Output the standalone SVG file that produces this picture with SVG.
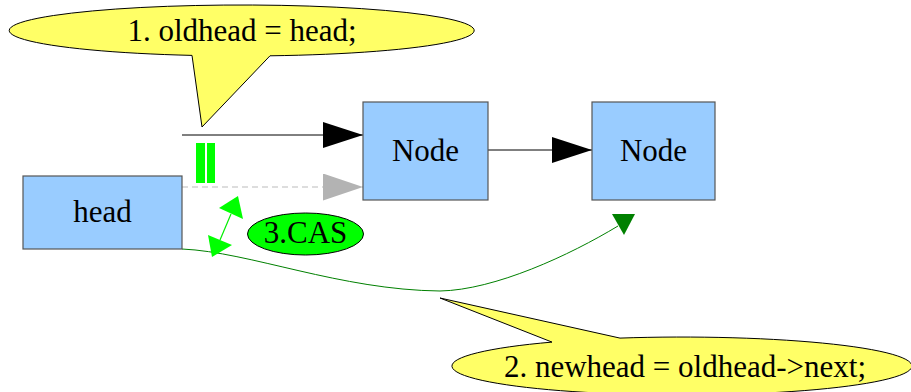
<svg xmlns="http://www.w3.org/2000/svg" width="911" height="392" viewBox="0 0 911 392">
  <style>
    .box { fill: #99ccff; stroke: #555555; stroke-width: 1.2; }
    .lbl { font-family: "Liberation Serif", "Times New Roman", serif; font-size: 31px; fill: #000; text-anchor: middle; }
    .callout { fill: #ffff66; stroke: #000; stroke-width: 1; }
    .link { fill: none; stroke: #000; stroke-width: 1; }
    .old { fill: none; stroke: #bbbbbb; stroke-width: 1; stroke-dasharray: 6 4; }
    .next { fill: none; stroke: #008000; stroke-width: 1; }
    .cas { fill: none; stroke: #00ee00; stroke-width: 1.2; }
  </style>
  <defs>
    <marker id="arrowBlack" markerUnits="userSpaceOnUse" markerWidth="40" markerHeight="26" refX="40" refY="13" orient="auto">
      <path d="M0,0 L40,13 L0,26 Z" fill="#000"/>
    </marker>
    <marker id="arrowGray" markerUnits="userSpaceOnUse" markerWidth="40" markerHeight="27" refX="40" refY="13.5" orient="auto">
      <path d="M0,0 L40,13.5 L0,27 Z" fill="#b3b3b3"/>
    </marker>
  </defs>

  <!-- connectors -->
  <g id="connectors">
    <line class="link" x1="182" y1="135" x2="363" y2="135" marker-end="url(#arrowBlack)"/>
    <line class="old" x1="182" y1="187" x2="363" y2="187" marker-end="url(#arrowGray)"/>
    <line class="link" x1="488" y1="150" x2="592" y2="150" marker-end="url(#arrowBlack)"/>
    <!-- head -> second node (new value) -->
    <path class="next" d="M182,249 C250,252 340,290 440,291 C495,290 570,255 618,226"/>
    <polygon points="612,214 635,214 624,235" fill="#008000"/>
    <!-- compare-and-swap double arrow -->
    <line class="cas" x1="220" y1="240" x2="231" y2="214"/>
    <polygon points="238,196 243,219 219,208" fill="#00ff00"/>
    <polygon points="212,257 208,235 232,245" fill="#00ff00"/>
    <!-- equality mark -->
    <rect x="196" y="143" width="9" height="40" fill="#00ff00"/>
    <rect x="207" y="143" width="8" height="40" fill="#00ff00"/>
  </g>

  <g id="head">
    <rect class="box" x="23" y="176" width="159" height="73"/>
    <text class="lbl" x="102.5" y="222">head</text>
  </g>

  <g id="node1">
    <rect class="box" x="363" y="102" width="125" height="98"/>
    <text class="lbl" x="425.5" y="161">Node</text>
  </g>

  <g id="node2">
    <rect class="box" x="592" y="102" width="123" height="98"/>
    <text class="lbl" x="653.5" y="161">Node</text>
  </g>

  <g id="cas">
    <ellipse cx="305.5" cy="234" rx="58" ry="21" fill="#00ff00" stroke="#000" stroke-width="1"/>
    <text class="lbl" x="305.5" y="243">3.CAS</text>
  </g>

  <g id="step1">
    <path class="callout" d="M192,55.4 L202,127 L270,55.8 A232.5,25.5 0 1 0 192,55.4 Z"/>
    <text class="lbl" x="242" y="41">1. oldhead = head;</text>
  </g>

  <g id="step2">
    <path class="callout" d="M620,338.1 L440,298 L552,342.1 A230,29 0 1 0 620,338.1 Z"/>
    <text class="lbl" x="685" y="377">2. newhead = oldhead-&gt;next;</text>
  </g>
</svg>
